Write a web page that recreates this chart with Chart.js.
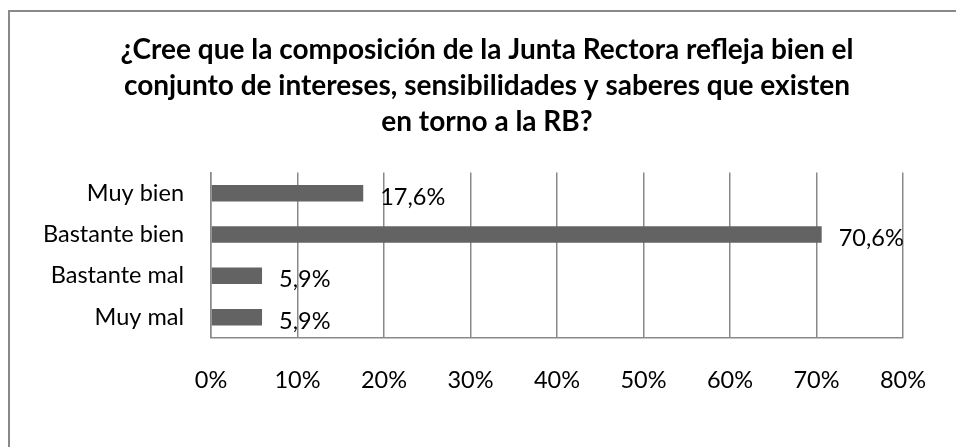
<!DOCTYPE html>
<html>
<head>
<meta charset="utf-8">
<script src="https://cdn.jsdelivr.net/npm/chart.js@4/dist/chart.umd.min.js"></script>
<style>
  html, body { margin: 0; padding: 0; background: #fff; overflow: hidden; }
  #wrap { position: relative; width: 956px; height: 447px; }
  #frame { position: absolute; left: 8px; top: 10px; width: 1000px; height: 500px;
           border: 2px solid #898989; box-sizing: border-box; pointer-events: none; }
  canvas { position: absolute; left: 0; top: 0; }
</style>
</head>
<body>
<div id="wrap">
  <canvas id="chart" width="956" height="447"></canvas>
  <div id="frame"></div>
</div>
<script>
// datos
const titleLines = [
  '¿Cree que la composición de la Junta Rectora refleja bien el',
  'conjunto de intereses, sensibilidades y saberes que existen',
  'en torno a la RB?'
];
const categories = ['Muy bien', 'Bastante bien', 'Bastante mal', 'Muy mal'];
const values = [17.6, 70.6, 5.9, 5.9];
const tickMin = 0;
const tickMax = 80;
const tickStep = 10;

const FONT = 'Lato, "Open Sans", "DejaVu Sans", sans-serif';
const GREY = '#898989';

function pct(v) {
  return v.toFixed(1).replace('.', ',') + '%';
}

// etiquetas de datos a la derecha de cada barra
const barLabels = {
  id: 'barLabels',
  afterDatasetsDraw(chart) {
    const ctx = chart.ctx;
    const meta = chart.getDatasetMeta(0);
    ctx.save();
    ctx.font = '23.5px ' + FONT;
    ctx.fillStyle = '#000';
    ctx.textAlign = 'left';
    ctx.textBaseline = 'middle';
    meta.data.forEach((bar, i) => {
      ctx.fillText(pct(values[i]), bar.x + 17, bar.y + 4);
    });
    ctx.restore();
  }
};

new Chart(document.getElementById('chart').getContext('2d'), {
  type: 'bar',
  data: {
    labels: categories,
    datasets: [{
      data: values,
      backgroundColor: '#636363',
      borderWidth: 0,
      barPercentage: 0.4,
      categoryPercentage: 1
    }]
  },
  options: {
    indexAxis: 'y',
    responsive: false,
    animation: false,
    devicePixelRatio: 1,
    layout: { padding: { left: 18, right: 0, top: 0, bottom: 23 } },
    plugins: {
      legend: { display: false },
      tooltip: { enabled: false },
      title: {
        display: true,
        text: titleLines,
        color: '#000',
        font: { family: FONT, size: 28, weight: 'bold', lineHeight: 1.28 },
        padding: { top: 32, bottom: 33 }
      }
    },
    scales: {
      x: {
        min: tickMin,
        max: tickMax,
        ticks: {
          stepSize: tickStep,
          color: '#000',
          padding: 29,
          font: { family: FONT, size: 23.5 },
          callback: v => v + '%'
        },
        grid: { color: GREY, lineWidth: 1.5, drawTicks: false },
        border: { display: true, color: GREY, width: 1.5 }
      },
      y: {
        ticks: {
          color: '#000',
          padding: 27,
          font: { family: FONT, size: 23.5 }
        },
        grid: { display: false, drawTicks: false },
        border: { display: true, color: GREY, width: 1.5 },
        afterFit(scale) { scale.width = 193; }
      },
      // eje vacio a la derecha: solo reserva el margen derecho
      yRight: {
        type: 'category',
        axis: 'y',
        position: 'right',
        ticks: { display: false },
        grid: { display: false, drawTicks: false },
        border: { display: false },
        afterFit(scale) { scale.width = 53; }
      }
    }
  },
  plugins: [barLabels]
});
</script>
</body>
</html>
